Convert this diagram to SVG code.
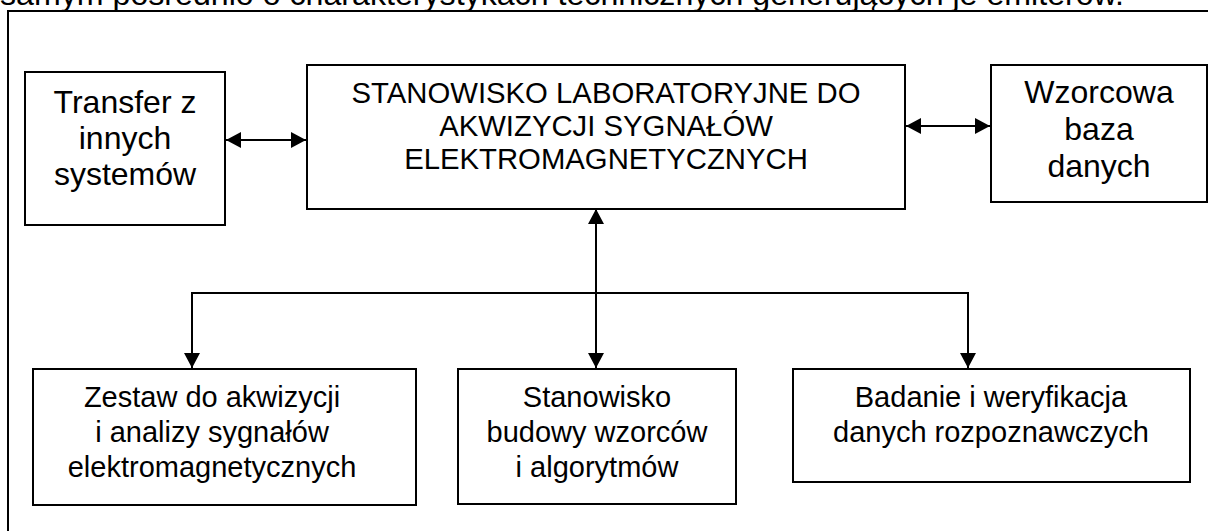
<svg xmlns="http://www.w3.org/2000/svg" width="1208" height="531" viewBox="0 0 1208 531">
<style>
.box{fill:#fff;stroke:#000;stroke-width:2}
.t{font-family:"Liberation Sans",Arial,sans-serif;font-size:32px;fill:#000;text-anchor:middle}
.tc{font-family:"Liberation Sans",Arial,sans-serif;font-size:29.3px;fill:#000;text-anchor:middle}
.tb{font-family:"Liberation Sans",Arial,sans-serif;font-size:29px;fill:#000;text-anchor:middle}
.c{fill:none;stroke:#000;stroke-width:2}
</style>
<defs>
<marker id="ah" markerUnits="userSpaceOnUse" markerWidth="15" markerHeight="16" refX="15" refY="8" orient="auto-start-reverse">
<path d="M0,0 L15,8 L0,16 z" fill="#000"/>
</marker>
</defs>
<rect width="1208" height="531" fill="#fff"/>
<text x="0" y="5" font-family="Liberation Sans, Arial, sans-serif" font-size="32" textLength="1124" lengthAdjust="spacingAndGlyphs">samym pośrednio o charakterystykach technicznych generujących je emiterów.</text>
<path d="M1208,11 H8 V531" class="c"/>
<g id="connectors">
<line x1="226" y1="140" x2="306" y2="140" class="c" marker-start="url(#ah)" marker-end="url(#ah)"/>
<line x1="906" y1="126" x2="990" y2="126" class="c" marker-start="url(#ah)" marker-end="url(#ah)"/>
<line x1="596" y1="209" x2="596" y2="368" class="c" marker-start="url(#ah)" marker-end="url(#ah)"/>
<path d="M192,368 V293 H968 V368" class="c" marker-start="url(#ah)" marker-end="url(#ah)"/>
</g>
<g id="transfer">
<rect x="25" y="72" width="200" height="153" class="box"/>
<text class="t" x="125" y="113">Transfer z</text>
<text class="t" x="125" y="149">innych</text>
<text class="t" x="125" y="185">systemów</text>
</g>
<g id="stanowisko-lab">
<rect x="307" y="65" width="598" height="144" class="box"/>
<text class="tc" x="606" y="103">STANOWISKO LABORATORYJNE DO</text>
<text class="tc" x="606" y="136">AKWIZYCJI SYGNAŁÓW</text>
<text class="tc" x="606" y="169">ELEKTROMAGNETYCZNYCH</text>
</g>
<g id="wzorcowa">
<rect x="991" y="65" width="216" height="137" class="box"/>
<text class="t" x="1099" y="103">Wzorcowa</text>
<text class="t" x="1099" y="140">baza</text>
<text class="t" x="1099" y="177">danych</text>
</g>
<g id="zestaw">
<rect x="33" y="369" width="383" height="136" class="box"/>
<text class="tb" x="212" y="407">Zestaw do akwizycji</text>
<text class="tb" x="212" y="442">i analizy sygnałów</text>
<text class="tb" x="212" y="477">elektromagnetycznych</text>
</g>
<g id="stanowisko-budowy">
<rect x="458" y="369" width="278" height="135" class="box"/>
<text class="tb" x="597" y="407">Stanowisko</text>
<text class="tb" x="597" y="442">budowy wzorców</text>
<text class="tb" x="597" y="477">i algorytmów</text>
</g>
<g id="badanie">
<rect x="793" y="369" width="397" height="113" class="box"/>
<text class="tb" x="991" y="407">Badanie i weryfikacja</text>
<text class="tb" x="991" y="442">danych rozpoznawczych</text>
</g>
</svg>
